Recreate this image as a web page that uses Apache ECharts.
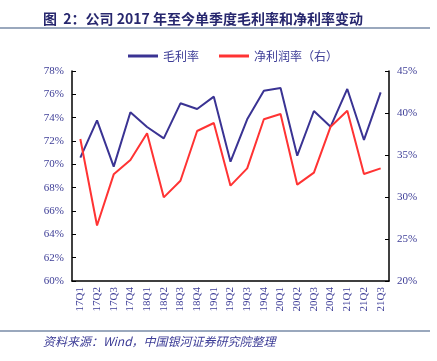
<!DOCTYPE html>
<html><head><meta charset="utf-8">
<script src="https://cdn.jsdelivr.net/npm/echarts@6/dist/echarts.min.js"></script>
<style>html,body{margin:0;padding:0;background:#fff}#c{width:437px;height:361px}</style>
</head><body><div id="c"></div>
<script>
const categories = ['17Q1','17Q2','17Q3','17Q4','18Q1','18Q2','18Q3','18Q4','19Q1','19Q2','19Q3','19Q4','20Q1','20Q2','20Q3','20Q4','21Q1','21Q2','21Q3'];
const grossMargin = [70.57,73.77,69.8,74.46,73.2,72.23,75.23,74.74,75.8,70.23,73.86,76.31,76.54,70.74,74.57,73.23,76.46,72.09,76.17];
const netMargin = [36.9,26.6,32.7,34.4,37.58,29.96,31.94,37.86,38.81,31.35,33.41,39.25,39.88,31.47,32.9,38.37,40.27,32.74,33.41];
const leftTicks = {min:60, max:78, interval:2};
const rightTicks = {min:20, max:45, interval:5};

const navy = '#3c3c96';
const serif = '"Liberation Serif", "Noto Sans CJK SC", serif';
const chart = echarts.init(document.getElementById('c'));
chart.setOption({
  animation: false,
  title: {
    text: '图  2：公司 2017 年至今单季度毛利率和净利率变动',
    left: 38, top: 7,
    textStyle: {fontSize: 14, fontWeight: 'bold', color: '#27276e', fontFamily: '"Noto Sans CJK SC", serif'}
  },
  graphic: [
    {type: 'rect', shape: {x: 0, y: 27, width: 430, height: 2}, style: {fill: '#9aa8bd'}},
    {type: 'rect', shape: {x: 0, y: 330, width: 430, height: 2}, style: {fill: '#9aa8bd'}},
    {type: 'text', left: 43, top: 335, style: {text: '资料来源：Wind，中国银河证券研究院整理', fill: navy, font: 'italic 12px "Noto Sans CJK SC", serif'}}
  ],
  legend: {
    top: 45, left: 123, itemWidth: 30, itemHeight: 3, itemGap: 20, icon: 'rect',
    textStyle: {color: navy, fontSize: 12, fontFamily: '"Noto Sans CJK SC", serif'},
    data: ['毛利率', '净利润率（右）']
  },
  grid: {left: 72, right: 48, top: 71, bottom: 80},
  xAxis: {
    type: 'category', data: categories, boundaryGap: true,
    axisLine: {lineStyle: {color: '#000', width: 1.5}},
    axisTick: {inside: true, length: 4, lineStyle: {color: '#000'}},
    axisLabel: {rotate: 90, color: navy, fontSize: 11, fontFamily: serif, margin: 6, interval: 0}
  },
  yAxis: [
    {type: 'value', min: leftTicks.min, max: leftTicks.max, interval: leftTicks.interval, position: 'left',
     splitLine: {show: false},
     axisLine: {show: true, lineStyle: {color: '#000', width: 1.5}},
     axisTick: {show: true, inside: true, length: 4, lineStyle: {color: '#000'}},
     axisLabel: {formatter: '{value}%', color: navy, fontSize: 11, fontFamily: serif, margin: 8}},
    {type: 'value', min: rightTicks.min, max: rightTicks.max, interval: rightTicks.interval, position: 'right',
     splitLine: {show: false},
     axisLine: {show: true, lineStyle: {color: '#000', width: 1.5}},
     axisTick: {show: true, inside: true, length: 4, lineStyle: {color: '#000'}},
     axisLabel: {formatter: '{value}%', color: navy, fontSize: 11, fontFamily: serif, margin: 8}}
  ],
  series: [
    {name: '毛利率', type: 'line', data: grossMargin, yAxisIndex: 0, symbol: 'none',
     lineStyle: {color: '#3a3393', width: 2}, itemStyle: {color: '#3a3393'}},
    {name: '净利润率（右）', type: 'line', data: netMargin, yAxisIndex: 1, symbol: 'none',
     lineStyle: {color: '#ff3333', width: 2}, itemStyle: {color: '#ff3333'}}
  ]
});
</script></body></html>
